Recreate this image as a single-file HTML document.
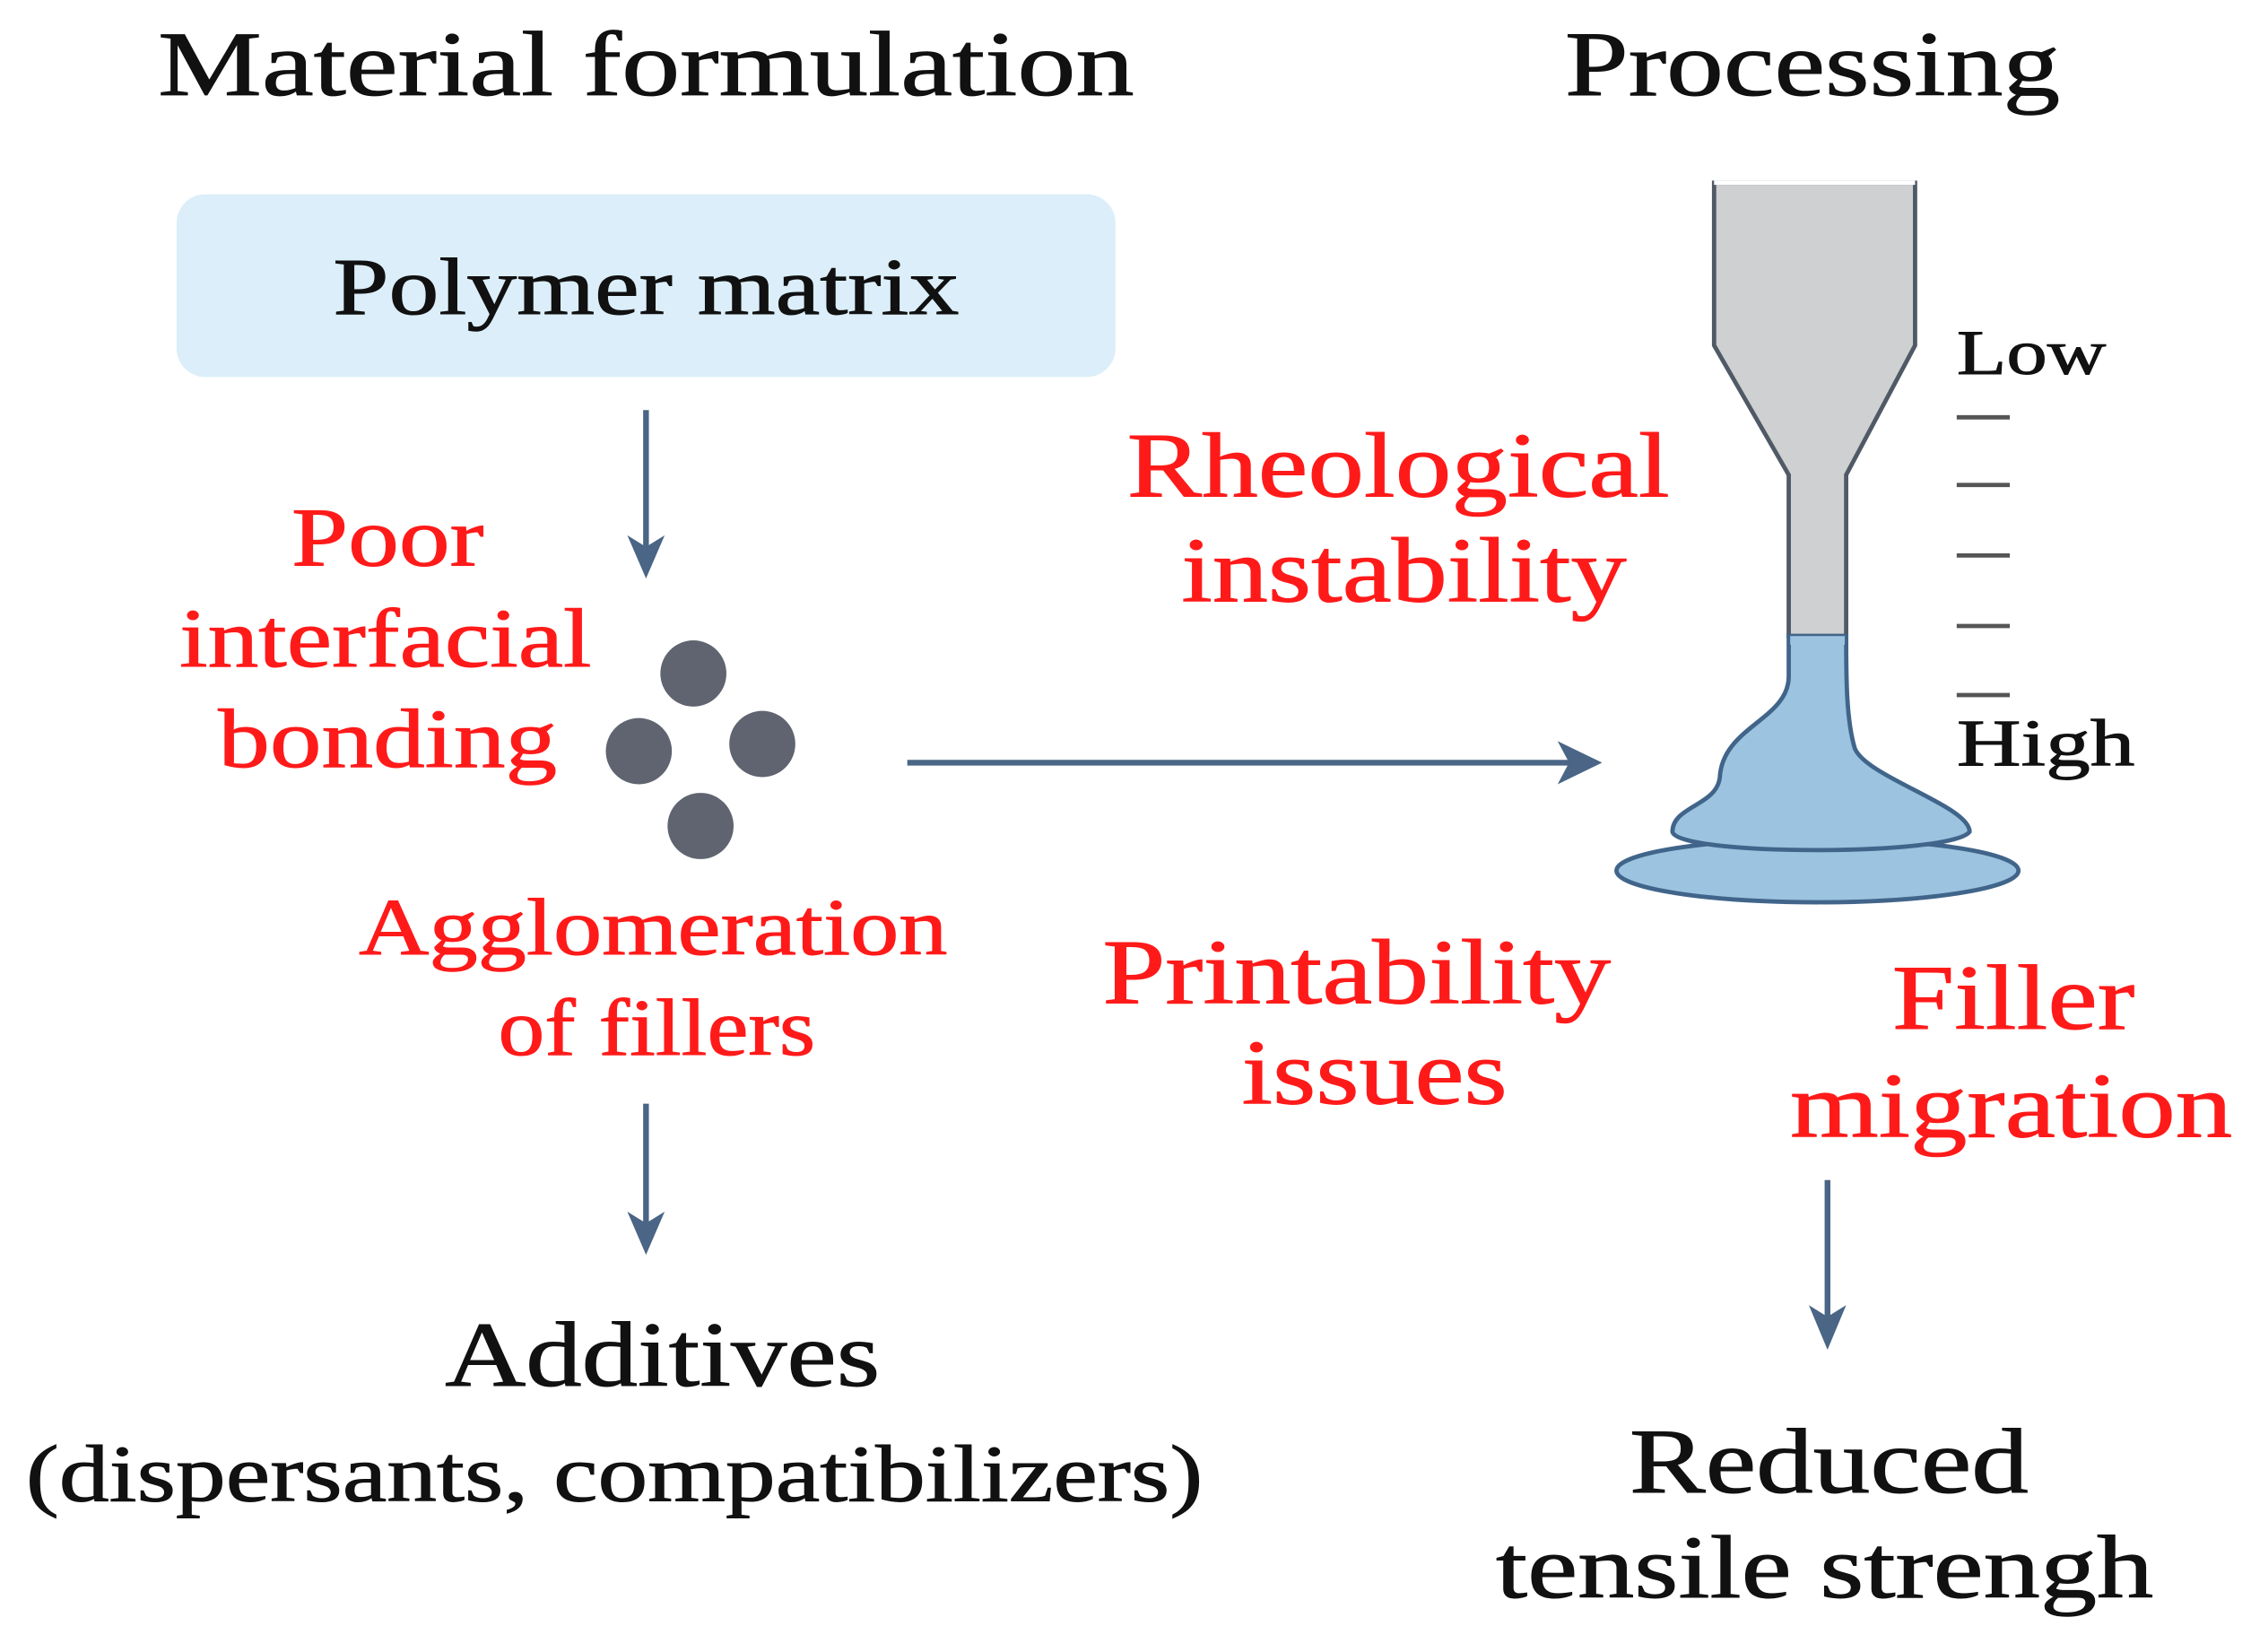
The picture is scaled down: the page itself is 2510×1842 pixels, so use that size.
<!DOCTYPE html>
<html><head><meta charset="utf-8"><style>
html,body{margin:0;padding:0;background:#fff;}
svg{display:block;}
text{font-family:"Liberation Serif",serif;stroke-width:0.6;}
.b{fill:#111;stroke:#111;}
.r{fill:#ff1a1a;stroke:#ff1a1a;}
</style></head><body>
<svg width="2510" height="1842" viewBox="0 0 1568 1148" preserveAspectRatio="none" xmlns="http://www.w3.org/2000/svg">
<g class="b">
<text x="110" y="66" font-size="64" textLength="680" lengthAdjust="spacingAndGlyphs">Material formulation</text>
<text x="1090" y="66" font-size="64" textLength="345" lengthAdjust="spacingAndGlyphs">Processing</text>
</g>
<rect x="123" y="135" width="654" height="127" rx="20" fill="#dbeef9"/>
<text class="b" x="232" y="218" font-size="56" textLength="436" lengthAdjust="spacingAndGlyphs">Polymer matrix</text>
<g stroke="#4a6585" stroke-width="4" fill="none">
<line x1="450" y1="285" x2="450" y2="385"/>
<line x1="632" y1="530" x2="1100" y2="530"/>
<line x1="450" y1="767" x2="450" y2="855"/>
<line x1="1273" y1="820" x2="1273" y2="920"/>
</g>
<g fill="#4a6585">
<path d="M437,372 L450,402 L463,372 L450,380Z"/>
<path d="M1085,515 L1116,530 L1085,545 L1093,530Z"/>
<path d="M437,842 L450,872 L463,842 L450,850Z"/>
<path d="M1260,907 L1273,938 L1286,907 L1273,915Z"/>
</g>
<g class="r">
<text x="203" y="393" font-size="58" textLength="134" lengthAdjust="spacingAndGlyphs">Poor</text>
<text x="125" y="463" font-size="58" textLength="287" lengthAdjust="spacingAndGlyphs">interfacial</text>
<text x="152" y="533" font-size="58" textLength="236" lengthAdjust="spacingAndGlyphs">bonding</text>
<text x="250" y="663" font-size="56" textLength="410" lengthAdjust="spacingAndGlyphs">Agglomeration</text>
<text x="347" y="733" font-size="56" textLength="221" lengthAdjust="spacingAndGlyphs">of fillers</text>
<text x="785" y="345" font-size="64" textLength="378" lengthAdjust="spacingAndGlyphs">Rheological</text>
<text x="823" y="418" font-size="64" textLength="310" lengthAdjust="spacingAndGlyphs">instability</text>
<text x="768" y="697" font-size="64" textLength="354" lengthAdjust="spacingAndGlyphs">Printability</text>
<text x="865" y="767" font-size="64" textLength="185" lengthAdjust="spacingAndGlyphs">issues</text>
<text x="1318" y="715" font-size="64" textLength="169" lengthAdjust="spacingAndGlyphs">Filler</text>
<text x="1247" y="790" font-size="64" textLength="308" lengthAdjust="spacingAndGlyphs">migration</text>
</g>
<g fill="#5f6470">
<circle cx="483" cy="468" r="23"/>
<circle cx="445" cy="522" r="23"/>
<circle cx="531" cy="517" r="23"/>
<circle cx="488" cy="574" r="23"/>
</g>
<g class="b">
<text x="310" y="963" font-size="64" textLength="303" lengthAdjust="spacingAndGlyphs">Additives</text>
<text x="18" y="1043" font-size="56" textLength="820" lengthAdjust="spacingAndGlyphs">(dispersants, compatibilizers)</text>
<text x="1135" y="1037" font-size="64" textLength="278" lengthAdjust="spacingAndGlyphs">Reduced</text>
<text x="1042" y="1110" font-size="62" textLength="458" lengthAdjust="spacingAndGlyphs">tensile strengh</text>
</g>
<path d="M1194,127 L1194,240 L1246,330 L1246,442 L1286,442 L1286,330 L1334,240 L1334,127 Z" fill="#cfd0d1" stroke="#505a66" stroke-width="3"/>
<line x1="1194" y1="127" x2="1334" y2="127" stroke="#fff" stroke-width="3"/>
<ellipse cx="1266" cy="605" rx="140" ry="22" fill="#9cc3df" stroke="#41658a" stroke-width="3"/>
<path d="M1246,442 L1246,470 C1246,500 1200,505 1198,540 C1196,560 1165,560 1165,578 C1168,595 1360,595 1372,578 C1372,560 1300,540 1292,520 C1286,500 1286,470 1286,442 Z" fill="#9cc3df" stroke="#41658a" stroke-width="3"/>
<rect x="1247" y="442" width="38" height="6" fill="#9cc3df"/>
<g stroke="#555" stroke-width="3">
<line x1="1363" y1="290" x2="1400" y2="290"/>
<line x1="1363" y1="337" x2="1400" y2="337"/>
<line x1="1363" y1="386" x2="1400" y2="386"/>
<line x1="1363" y1="435" x2="1400" y2="435"/>
<line x1="1363" y1="483" x2="1400" y2="483"/>
</g>
<g class="b">
<text x="1363" y="260" font-size="44" textLength="104" lengthAdjust="spacingAndGlyphs">Low</text>
<text x="1363" y="532" font-size="46" textLength="124" lengthAdjust="spacingAndGlyphs">High</text>
</g>
</svg>
</body></html>
